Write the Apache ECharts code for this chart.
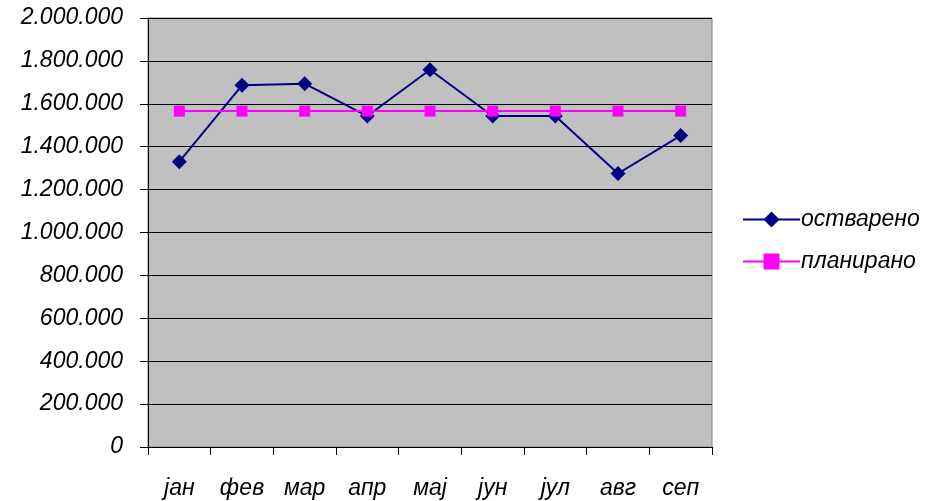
<!DOCTYPE html>
<html>
<head>
<meta charset="utf-8">
<script src="https://cdn.jsdelivr.net/npm/echarts@6/dist/echarts.min.js"></script>
<style>html,body{margin:0;padding:0;background:#fff}#c{width:935px;height:501px}</style>
</head>
<body>
<div id="c"></div>
<script>
const categories = ['јан','фев','мар','апр','мај','јун','јул','авг','сеп'];
const ostvareno = [1330000, 1686000, 1694000, 1543000, 1759000, 1543000, 1543000, 1275000, 1452000];
const planirano = [1566000, 1566000, 1566000, 1566000, 1566000, 1566000, 1566000, 1566000, 1566000];
const seriesNames = ['остварено', 'планирано'];

function fmt(v){ return String(v).replace(/\B(?=(\d{3})+(?!\d))/g, '.'); }

const chart = echarts.init(document.getElementById('c'), null, {renderer:'canvas'});
const font = {fontFamily:'Liberation Sans, Arial, sans-serif', fontStyle:'italic', fontSize:23, color:'#000'};
chart.setOption({
  animation:false,
  backgroundColor:'#fff',
  grid:{left:148, right:223, top:18, bottom:54, show:true, backgroundColor:'#c0c0c0', borderColor:'#808080', borderWidth:1},
  legend:{
    orient:'vertical', left:737, top:203, itemGap:19, itemWidth:57, itemHeight:20,
    textStyle:Object.assign({}, font, {padding:[0,0,0,-4]}),
    data:seriesNames
  },
  xAxis:{
    type:'category', data:categories, boundaryGap:true,
    axisLine:{lineStyle:{color:'#000', width:1}},
    axisTick:{show:true, length:8, inside:false, lineStyle:{color:'#000'}},
    axisLabel:Object.assign({}, font, {margin:30})
  },
  yAxis:{
    type:'value', min:0, max:2000000, interval:200000,
    axisLine:{show:true, lineStyle:{color:'#000', width:1}},
    axisTick:{show:true, length:8, lineStyle:{color:'#000'}},
    splitLine:{show:true, lineStyle:{color:'#000', width:1}},
    axisLabel:Object.assign({}, font, {margin:25, formatter:fmt})
  },
  series:[
    {name:seriesNames[0], type:'line', data:ostvareno, symbol:'diamond', symbolSize:15,
     itemStyle:{color:'#000080'}, lineStyle:{color:'#000080', width:2}, z:3},
    {name:seriesNames[1], type:'line', data:planirano, symbol:'rect', symbolSize:11,
     itemStyle:{color:'#ff00ff'}, lineStyle:{color:'#ff00ff', width:2}, z:4}
  ]
});
</script>
</body>
</html>
